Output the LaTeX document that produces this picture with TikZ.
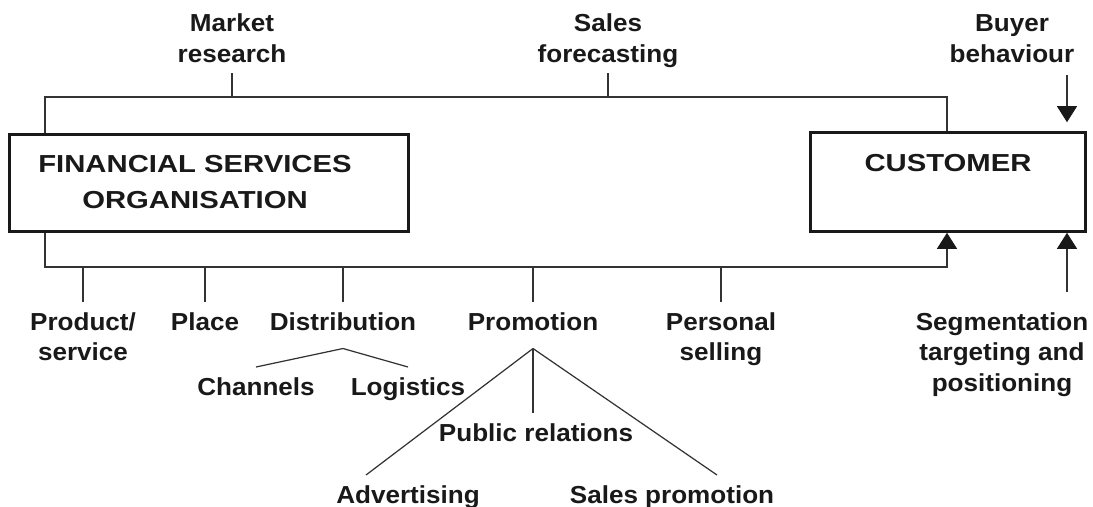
\documentclass[tikz,border=0pt]{standalone}
\usepackage{fontspec}
\setmainfont{Liberation Sans}
\newfontfamily\lblfont{Liberation Sans}[FakeStretch=1.06]
\newfontfamily\boxfont{Liberation Sans}[FakeStretch=1.19]
\usetikzlibrary{arrows.meta}
\definecolor{ink}{gray}{0.1}
\definecolor{wirecol}{gray}{0.2}

\begin{document}
\begin{tikzpicture}[x=0.02cm,y=-0.02cm,
	lbl/.style={font=\lblfont\bfseries\fontsize{14}{17.5}\selectfont, text=ink, align=center, inner xsep=0pt, inner ysep=0.2cm, text depth=0pt},
	orgbox/.style={draw=ink, line width=1.5pt, font=\boxfont\bfseries\fontsize{14}{20.5}\selectfont, text=ink, inner sep=0pt},
	wire/.style={draw=wirecol, line width=0.7pt},
	feed/.style={wire, -{Triangle[length=0.32cm,width=0.4cm,color=ink]}}]
			\useasboundingbox (0,0) rectangle (1093,507);

			%boxes
			\node[orgbox, minimum width=7.98cm, minimum height=1.95cm] (fso) at (209,183) {\begin{tabular}{@{}c@{}}FINANCIAL SERVICES\\ORGANISATION\end{tabular}\hspace*{0.56cm}};

			\node[orgbox, minimum width=5.5cm, minimum height=1.98cm, text depth=0.77cm] (cust) at (948,182) {CUSTOMER};

			%top line
			\coordinate (tl) at (45,97);
			\coordinate (tr) at (947,97);
			\draw[wire] (fso.north -| tl) -- (tl) -- (tr) -- (cust.north -| tr);

			\node[lbl, anchor=south] (mr) at (232,73) {Market\\research};
			\node[lbl, anchor=south] (sf) at (608,73) {Sales\\forecasting};
			\node[lbl, anchor=south] (bb) at (1012,73) {Buyer\\behaviour};

			\draw[wire] (mr.south) -- (mr.south |- tl);
			\draw[wire] (sf.south) -- (sf.south |- tl);

			\coordinate (bbtop) at (1067,75);
			\draw[feed, shorten >=0.18cm] (bbtop) -- (cust.north -| bbtop);

			%bottom line
			\coordinate (bl) at (45,267);
			\coordinate (br) at (947,267);
			\draw[feed] (fso.south -| bl) -- (bl) -- (br) -- (cust.south -| br);

			\node[lbl, anchor=north] (prod) at (83,302) {Product/\\service};
			\node[lbl, anchor=north] (place) at (205,302) {Place};
			\node[lbl, anchor=north] (dist) at (343,302) {Distribution};
			\node[lbl, anchor=north] (promo) at (533,302) {Promotion};
			\node[lbl, anchor=north] (pers) at (721,302) {Personal\\selling};
			\node[lbl, anchor=north] (seg) at (1002,302) {Segmentation\\targeting and\\positioning};

			\foreach \n in {prod,place,dist,promo,pers}
				\draw[wire] (\n.north) -- (\n.north |- bl);

			\coordinate (segbot) at (1067,292);
			\draw[feed] (segbot) -- (cust.south -| segbot);

			%distribution
			\coordinate (distA) at ([yshift=-0.16cm]dist.south);
			\node[lbl, anchor=north] (chan) at (256,367) {Channels};
			\node[lbl, anchor=north] (logi) at (408,367) {Logistics};
			\draw[wire] (chan.north) -- (distA) -- (logi.north);

			%promotion
			\coordinate (promoA) at ([yshift=-0.16cm]promo.south);
			\node[lbl, anchor=north] (pr) at (536,413) {Public relations};
			\node[lbl, anchor=north] (adv) at (408,475) {Advertising};
			\node[lbl, anchor=north] (sp) at (672,475) {Sales promotion};
			\draw[wire] (promoA) -- ([xshift=-0.84cm]adv.north);
			\draw[wire] (promoA) -- (promoA |- pr.north);
			\draw[wire] (promoA) -- ([xshift=0.9cm]sp.north);
\end{tikzpicture}
\end{document}
